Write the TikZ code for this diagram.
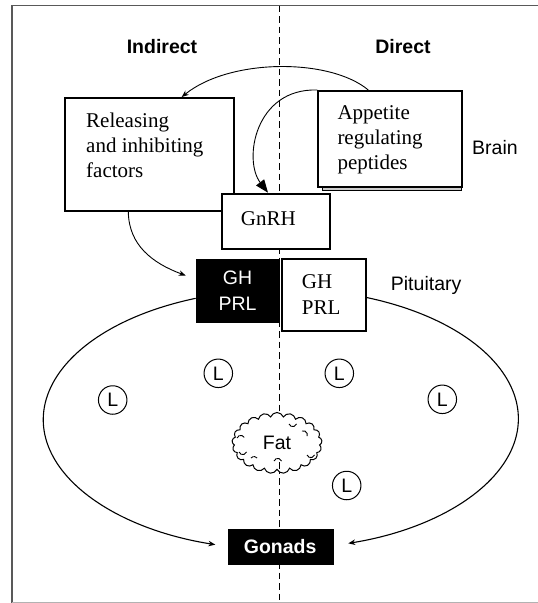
\documentclass[tikz,border=0pt]{standalone}
\usepackage{fontspec}
\setmainfont{Liberation Serif}
\setsansfont{Liberation Sans}
\usetikzlibrary{shapes.symbols,arrows.meta,calc}
\begin{document}
\begin{tikzpicture}[x=1pt,y=-1pt,
  boxline/.style={draw=black, line width=1.8pt, fill=white, inner sep=0pt, anchor=north west},
  blackbox/.style={draw=black, line width=1pt, fill=black, inner sep=0pt, anchor=north west},
  serifbig/.style={font=\fontsize{21}{25}\selectfont, inner sep=0pt},
  sansbig/.style={font=\sffamily\fontsize{19.5}{24}\selectfont, inner sep=0pt},
  headtext/.style={font=\sffamily\bfseries\fontsize{19.5}{24}\selectfont, inner sep=0pt},
  thinarrow/.style={line width=0.9pt, -{Stealth[length=7pt,width=5.5pt]}},
  ellarrow/.style={line width=1.1pt, -{Stealth[length=7pt,width=5.5pt]}},
  lcircle/.style={circle, draw=black, line width=1pt, minimum size=28.5pt, inner sep=0pt, fill=white, font=\sffamily\fontsize{19.5}{24}\selectfont},
  midline/.style={line width=1pt, dash pattern=on 6.5pt off 4pt},
  tick/.style={line width=0.9pt}
]
\useasboundingbox (0,0) rectangle (538,603);
% frame
\draw[draw=black!65, line width=1.3pt] (538,5.7) -- (12,5.7) -- (12,603);
\draw[draw=black!30, line width=1pt] (12,602) -- (538,602);
% dividing line
\draw[midline] (279,5.7) -- (279,603);

% headings
\node[headtext] (ind) at (162,47) {Indirect};
\node[headtext] (dir) at (403,46.7) {Direct};

% brain boxes
\node[boxline, minimum width=168.4pt, minimum height=113.3pt] (rel) at (64.3,97) {};
\node[serifbig, anchor=base west] (relt) at (86,127.7) {\begin{tabular}[t]{@{}l@{}}Releasing\\and inhibiting\\factors\end{tabular}};

\draw[line width=1pt, fill=black!20] (322.3,100) rectangle (461,190.3);
\node[boxline, minimum width=143.7pt, minimum height=95.7pt] (app) at (317.3,90) {};
\node[serifbig, anchor=base west] (appt) at (337.3,119) {\begin{tabular}[t]{@{}l@{}}Appetite\\regulating\\peptides\end{tabular}};

\node[sansbig, anchor=west] (brain) at (472,147.7) {Brain};

\node[boxline, minimum width=108.3pt, minimum height=55pt] (gnrh) at (220.7,192.7) {};
\node[serifbig, anchor=base west] (gnrht) at (240.7,225.5) {GnRH};

% pituitary boxes
\node[blackbox, minimum width=83.3pt, minimum height=63pt] (bk) at (195.7,259.3) {};
\node[sansbig, text=white, anchor=base] (bkt) at (237.5,284.8) {\fontsize{19.5}{26}\selectfont\begin{tabular}[t]{@{}c@{}}GH\\PRL\end{tabular}};
\node[boxline, minimum width=84.3pt, minimum height=72pt] (wb) at (281,258.3) {};
\node[serifbig, anchor=base west] (wbt) at (301.7,288.5) {\fontsize{21}{25.7}\selectfont\begin{tabular}[t]{@{}l@{}}GH\\PRL\end{tabular}};
\node[sansbig, anchor=base west] (pit) at (390.7,290) {Pituitary};

% gonads
\node[blackbox, minimum width=105pt, minimum height=35pt] (gon) at (227.7,528.7) {};
\node[headtext, text=white] (gont) at (280.2,546.2) {Gonads};

% fat and leptin
\node[cloud, cloud puffs=21, cloud puff arc=140, draw=black, line width=1pt, fill=white,
      minimum width=90pt, minimum height=61pt, inner sep=0pt, sansbig] (fat) at (277,443) {Fat};
\draw[tick] (237,438) arc[start angle=200, end angle=330, radius=4];
\draw[tick] (239,452) arc[start angle=160, end angle=20, radius=4];
\draw[tick] (251,458) arc[start angle=220, end angle=320, radius=4];
\draw[tick] (274,461) arc[start angle=200, end angle=340, radius=4];
\draw[tick] (279,462) -- (279,469);
\draw[tick] (289,424) arc[start angle=160, end angle=20, radius=4];
\draw[tick] (302,431) arc[start angle=250, end angle=380, radius=4];
\draw[tick] (307,455) arc[start angle=160, end angle=20, radius=4];
\node[lcircle] (l1) at (112.7,400) {L};
\node[lcircle] (l2) at (218.3,373.3) {L};
\node[lcircle] (l3) at (339.3,373.3) {L};
\node[lcircle] (l4) at (442.3,399.3) {L};
\node[lcircle] (l5) at (346.7,485.5) {L};

% connectors
\draw[thinarrow] ($(app.north west)+(51,0)$) .. controls (330,58) and (230,58) .. ($(rel.north west)+(117.4,0)$);
\draw[line width=0.9pt, -{Triangle[length=13pt,width=10pt]}] (app.north west) .. controls (255,88) and (243,160) .. ($(gnrh.north west)+(47.3,0)$);
\draw[thinarrow] ($(rel.south west)+(64,0)$) .. controls (129,245) and (152,263) .. ($(bk.west)+(-10,-15.8)$);
\draw[ellarrow] ($(bk.west)+(0,7)$) arc[start angle=-111, end angle=-254, x radius=237.5, y radius=130];
\draw[ellarrow] ($(wb.east)+(0,2.4)$) arc[start angle=-68.7, end angle=73.5, x radius=237.5, y radius=130];
\end{tikzpicture}
\end{document}
